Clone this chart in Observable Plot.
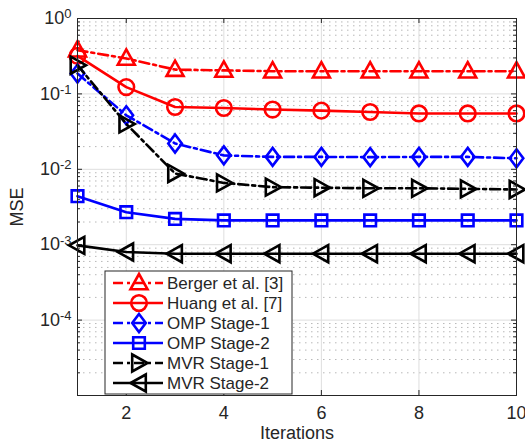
<!DOCTYPE html>
<html>
<head>
<meta charset="utf-8">
<script src="https://cdn.jsdelivr.net/npm/d3@7"></script>
<script src="https://cdn.jsdelivr.net/npm/@observablehq/plot@0.6"></script>
<style>
  body { margin: 0; background: #fff; }
  svg { font-family: 'Liberation Sans', Arial, sans-serif; }
</style>
</head>
<body>
<div id="chart"></div>
<script>
// ---- data ----
const iterations = [1, 2, 3, 4, 5, 6, 7, 8, 9, 10];
const berger  = [0.38, 0.295, 0.21, 0.205, 0.2, 0.2, 0.2, 0.2, 0.2, 0.2];
const huang   = [0.32, 0.123, 0.067, 0.065, 0.062, 0.06, 0.0575, 0.055, 0.055, 0.055];
const omp1    = [0.186, 0.052, 0.022, 0.0153, 0.0146, 0.0146, 0.0145, 0.0146, 0.0146, 0.014];
const omp2    = [0.0044, 0.0027, 0.0022, 0.0021, 0.0021, 0.0021, 0.0021, 0.0021, 0.0021, 0.0021];
const mvr1    = [0.24, 0.040, 0.0088, 0.0066, 0.0058, 0.0057, 0.0056, 0.0056, 0.0055, 0.0054];
const mvr2    = [0.00098, 0.0008, 0.00076, 0.00076, 0.00076, 0.00076, 0.00076, 0.00076, 0.00076, 0.00076];
const seriesNames = ["Berger et al. [3]", "Huang et al. [7]", "OMP Stage-1", "OMP Stage-2", "MVR Stage-1", "MVR Stage-2"];
const xTicks = [2, 4, 6, 8, 10];
const yTicks = [1e-5, 1e-4, 1e-3, 1e-2, 1e-1, 1];
const yLabelTicks = [1e-4, 1e-3, 1e-2, 1e-1, 1];
const yTickLabels = ["10^-4", "10^-3", "10^-2", "10^-1", "10^0"];

// ---- symbols ----
function poly(pts) {
  return {
    draw(ctx, size) {
      const s = Math.sqrt(size / Math.PI) / 8;
      pts.forEach(([x, y], i) => i ? ctx.lineTo(x * s, y * s) : ctx.moveTo(x * s, y * s));
      ctx.closePath();
    }
  };
}
const symTriUp = poly([[0, -9], [8.5, 6.3], [-8.5, 6.3]]);
const symTriRight = poly([[-6.8, -8.5], [8.5, 0], [-6.8, 8.5]]);
const symTriLeft = poly([[6.8, -8.5], [-8.5, 0], [6.8, 8.5]]);
const symDiamond = poly([[0, -9], [6.8, 0], [0, 9], [-6.8, 0]]);
const symSquare = poly([[-5.8, -5.8], [5.8, -5.8], [5.8, 5.8], [-5.8, 5.8]]);
const symCircle = { draw(ctx, size) { const r = Math.sqrt(size / Math.PI) * 7.8 / 8; ctx.moveTo(r, 0); ctx.arc(0, 0, r, 0, 2 * Math.PI); } };

const dashDot = "10,4,3,4";
const styles = [
  { values: berger, color: "#ff0000", dash: dashDot, symbol: symTriUp },
  { values: huang, color: "#ff0000", dash: null, symbol: symCircle },
  { values: omp1, color: "#0000ff", dash: dashDot, symbol: symDiamond },
  { values: omp2, color: "#0000ff", dash: null, symbol: symSquare },
  { values: mvr1, color: "#000000", dash: dashDot, symbol: symTriRight },
  { values: mvr2, color: "#000000", dash: null, symbol: symTriLeft }
];

const W = 525, H = 444, mL = 77, mR = 9, mT = 18, mB = 49;
const innerW = W - mL - mR, innerH = H - mT - mB;

const minorY = d3.scaleLog().domain([1e-5, 1]).ticks().filter(v => !yTicks.some(t => Math.abs(t - v) / t < 1e-9));

const seriesMarks = [];
styles.forEach((s) => {
  const rows = iterations.map((it, i) => ({ x: it, y: s.values[i] }));
  seriesMarks.push(Plot.line(rows, { x: "x", y: "y", stroke: s.color, strokeWidth: 2.6, strokeDasharray: s.dash || undefined }));
  seriesMarks.push(Plot.dot(rows, { x: "x", y: "y", r: 8, symbol: s.symbol, stroke: s.color, fill: "none", strokeWidth: 2.6 }));
});

const axisColor = "#262626";
const svg = Plot.plot({
  width: W, height: H,
  marginLeft: mL, marginRight: mR, marginTop: mT, marginBottom: mB,
  style: { fontFamily: "'Liberation Sans', Arial, sans-serif", fontSize: "18px", color: axisColor, background: "#fff" },
  x: { domain: [1, 10] },
  y: { type: "log", domain: [1e-5, 1] },
  marks: [
    Plot.ruleY(minorY, { stroke: "#b8b8b8", strokeWidth: 1, strokeDasharray: "1.5,4.5" }),
    Plot.ruleX(xTicks.slice(0, -1), { stroke: "#dedede", strokeWidth: 1 }),
    Plot.ruleY(yTicks, { stroke: "#dedede", strokeWidth: 1 }),
    // inward tick marks
    Plot.ruleX(xTicks, { stroke: axisColor, insetTop: innerH - 5 }),
    Plot.ruleX(xTicks, { stroke: axisColor, insetBottom: innerH - 5 }),
    Plot.ruleY(yTicks, { stroke: axisColor, insetRight: innerW - 5 }),
    Plot.ruleY(yTicks, { stroke: axisColor, insetLeft: innerW - 5 }),
    Plot.ruleY(minorY, { stroke: axisColor, insetRight: innerW - 3 }),
    Plot.ruleY(minorY, { stroke: axisColor, insetLeft: innerW - 3 }),
    ...seriesMarks,
    Plot.frame({ stroke: axisColor, strokeWidth: 1 }),
    Plot.axisX(xTicks, { tickSize: 0, tickPadding: 11, fontSize: 18, label: "Iterations", labelAnchor: "center", labelOffset: 43, labelArrow: "none" }),
    Plot.axisY(yLabelTicks, { tickSize: 0, tickPadding: 6, fontSize: 18, tickFormat: (d) => yTickLabels[yLabelTicks.indexOf(d)], label: "MSE", labelAnchor: "center", labelOffset: 67, labelArrow: "none" })
  ]
});

// superscripts for the y tick labels
d3.select(svg).selectAll('g[aria-label="y-axis tick label"] text').each(function () {
  const t = this.textContent;
  const m = t.match(/^10\^(.*)$/);
  if (!m) return;
  const sel = d3.select(this);
  sel.text("");
  sel.append("tspan").text("10");
  sel.append("tspan").attr("dy", "-0.45em").style("font-size", "13px").text(m[1]);
});

// legend
const lg = d3.select(svg).append("g").attr("transform", "translate(105,271)")
  .style("font-size", "17px").attr("text-anchor", "start");
lg.append("rect").attr("width", 187).attr("height", 123).attr("fill", "#fff").attr("stroke", axisColor).attr("stroke-width", 1);
styles.forEach((s, i) => {
  const cy = 12 + i * 20;
  lg.append("line").attr("x1", 8).attr("x2", 58).attr("y1", cy).attr("y2", cy)
    .attr("stroke", s.color).attr("stroke-width", 2.6).attr("stroke-dasharray", s.dash);
  lg.append("path").attr("d", d3.symbol(s.symbol, 64 * Math.PI)()).attr("transform", `translate(34,${cy})`)
    .attr("fill", "none").attr("stroke", s.color).attr("stroke-width", 2.6);
  lg.append("text").attr("x", 62).attr("y", cy).attr("dy", "0.36em")
    .style("font-size", "17px").style("text-anchor", "start").attr("fill", axisColor).text(seriesNames[i]);
});

document.getElementById("chart").appendChild(svg);
</script>
</body>
</html>
